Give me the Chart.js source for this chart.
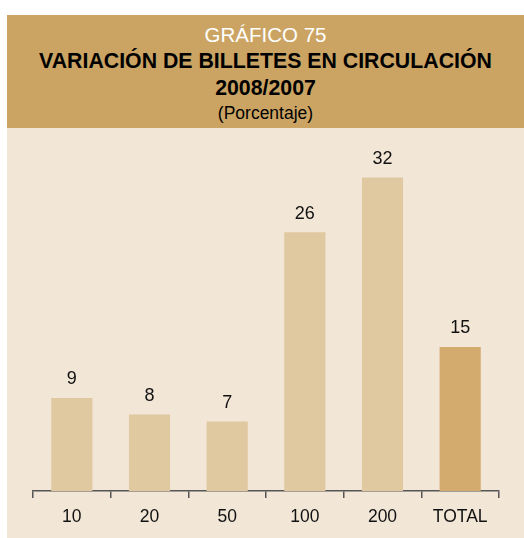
<!DOCTYPE html>
<html>
<head>
<meta charset="utf-8">
<script src="https://cdn.jsdelivr.net/npm/chart.js@4.4.1/dist/chart.umd.min.js"></script>
<style>
  html, body { margin: 0; padding: 0; background: #ffffff; width: 524px; height: 538px; overflow: hidden; }
  body { font-family: "Liberation Sans", Arial, sans-serif; position: relative; }
  #header { position: absolute; left: 7px; top: 15px; width: 517px; height: 113px; background: #CBA463; }
  .hl { position: absolute; left: 0; width: 517px; text-align: center; white-space: nowrap; line-height: 1; }
  #panel { position: absolute; left: 7px; top: 128px; width: 517px; height: 410px; background: #F2E6D7; }
  #wrap { position: absolute; left: 0; top: 0; width: 517px; height: 410px; }
</style>
</head>
<body>
<div id="header">
  <div class="hl" style="top:10px;font-size:20.5px;color:#ffffff;">GRÁFICO 75</div>
  <div class="hl" style="top:36px;font-size:21.3px;font-weight:bold;color:#000;">VARIACIÓN DE BILLETES EN CIRCULACIÓN</div>
  <div class="hl" style="top:63px;font-size:21.3px;font-weight:bold;color:#000;">2008/2007</div>
  <div class="hl" style="top:90px;font-size:17.5px;color:#000;">(Porcentaje)</div>
</div>
<div id="panel">
  <div id="wrap"><canvas id="c"></canvas></div>
</div>
<script>
const categories = ["10", "20", "50", "100", "200", "TOTAL"];
const values = [9.5, 7.8, 7.1, 26.4, 32.0, 14.7];
const valueLabels = ["9", "8", "7", "26", "32", "15"];
const barColors = ["#E0C8A0", "#E0C8A0", "#E0C8A0", "#E0C8A0", "#E0C8A0", "#D3AB6E"];

const valueLabelPlugin = {
  id: "valueLabels",
  afterDatasetsDraw(chart) {
    const ctx = chart.ctx;
    const meta = chart.getDatasetMeta(0);
    ctx.save();
    ctx.font = '18px "Liberation Sans", Arial, sans-serif';
    ctx.fillStyle = "#111111";
    ctx.textAlign = "center";
    ctx.textBaseline = "alphabetic";
    meta.data.forEach((bar, i) => {
      ctx.fillText(valueLabels[i], bar.x, bar.y - 13.5);
    });
    ctx.restore();
  }
};

new Chart(document.getElementById("c"), {
  type: "bar",
  data: {
    labels: categories,
    datasets: [{
      data: values,
      backgroundColor: barColors,
      borderWidth: 0,
      barPercentage: 0.53,
      categoryPercentage: 1.0
    }]
  },
  options: {
    responsive: true,
    maintainAspectRatio: false,
    animation: false,
    events: [],
    layout: { padding: { left: 26, right: 25, top: 20, bottom: 0 } },
    plugins: { legend: { display: false }, tooltip: { enabled: false }, title: { display: false } },
    scales: {
      y: { display: false, min: 0, max: 35 },
      x: {
        offset: true,
        grid: {
          offset: true,
          drawOnChartArea: false,
          drawTicks: true,
          tickLength: 7,
          color: "#555555",
          lineWidth: 1.5
        },
        border: { display: true, color: "#555555", width: 1.5 },
        ticks: {
          color: "#111111",
          padding: 9,
          maxRotation: 0,
          autoSkip: false,
          font: { family: '"Liberation Sans", Arial, sans-serif', size: 17.5 }
        },
        afterFit(scale) { scale.height = 47; }
      }
    }
  },
  plugins: [valueLabelPlugin]
});
</script>
</body>
</html>
